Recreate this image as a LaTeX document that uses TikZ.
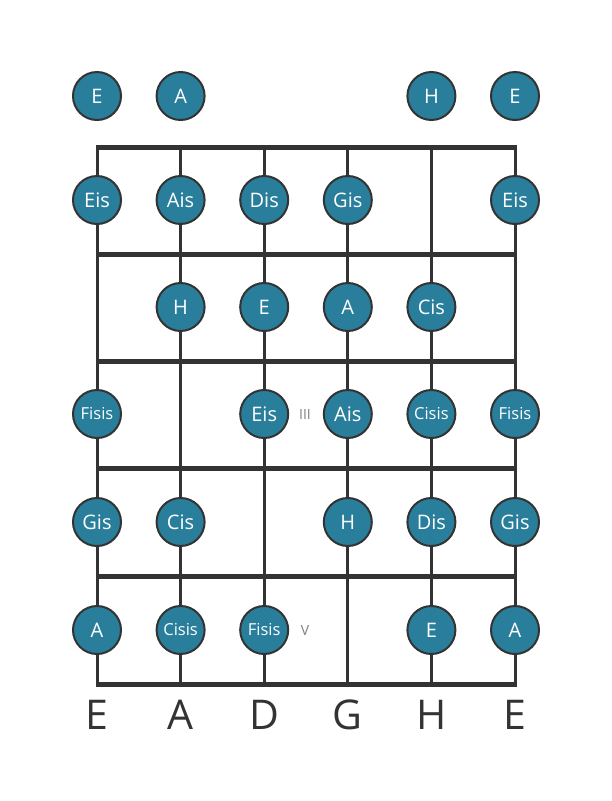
\documentclass[tikz,border=0pt]{standalone}
\usepackage{fontspec}
\setmainfont{Open Sans}
\definecolor{dotfill}{RGB}{41,127,155}
\definecolor{boardgray}{RGB}{51,51,51}

\begin{document}
\begin{tikzpicture}[x=1pt,y=-1pt,
    note/.style={circle,draw=boardgray,line width=2pt,fill=dotfill,text=white,
        minimum size=48pt,inner sep=0pt,font=\fontsize{20}{20}\selectfont},
    smallnote/.style={note,font=\fontsize{16.5}{16.5}\selectfont},
    fretnum/.style={text=gray,font=\fontsize{14}{14}\selectfont},
    strname/.style={text=boardgray,font=\fontsize{41}{41}\selectfont}]
        \useasboundingbox (0,0) rectangle (611,801);
        % strings
        \foreach \s in {1,...,6}
            \draw[boardgray,line width=3pt] ({97+(\s-1)*83.6},147) -- ({97+(\s-1)*83.6},684);
        % frets
        \foreach \y in {147,254,361,468,576,684}
            \draw[boardgray,line width=5pt] (95.5,\y) -- (516.5,\y);

        % open strings
        \foreach \s/\n in {1/E,2/A,5/H,6/E}
            \node[note] (open\s) at ({97+(\s-1)*83.6},96) {\n};
        % fret 1
        \foreach \s/\n in {1/Eis,2/Ais,3/Dis,4/Gis,6/Eis}
            \node[note] (fa\s) at ({97+(\s-1)*83.6},200) {\n};
        % fret 2
        \foreach \s/\n in {2/H,3/E,4/A,5/Cis}
            \node[note] (fb\s) at ({97+(\s-1)*83.6},307) {\n};
        % fret 3
        \node[smallnote] (fc1) at (97,414) {Fisis};
        \node[note] (fc3) at (264.2,414) {Eis};
        \node[note] (fc4) at (347.8,414) {Ais};
        \node[smallnote] (fc5) at (431.4,414) {Cisis};
        \node[smallnote] (fc6) at (515,414) {Fisis};
        \node[fretnum] (three) at (305,414) {III};
        % fret 4
        \foreach \s/\n in {1/Gis,2/Cis,4/H,5/Dis,6/Gis}
            \node[note] (fd\s) at ({97+(\s-1)*83.6},522) {\n};
        % fret 5
        \node[note] (fe1) at (97,630) {A};
        \node[smallnote] (fe2) at (180.6,630) {Cisis};
        \node[smallnote] (fe3) at (264.2,630) {Fisis};
        \node[note] (fe5) at (431.4,630) {E};
        \node[note] (fe6) at (515,630) {A};
        \node[fretnum] (five) at (305,630) {V};

        % tuning
        \foreach \s/\n in {1/E,2/A,3/D,4/G,5/H,6/E}
            \node[strname] (tune\s) at ({97+(\s-1)*83.6},715) {\n};
\end{tikzpicture}
\end{document}
